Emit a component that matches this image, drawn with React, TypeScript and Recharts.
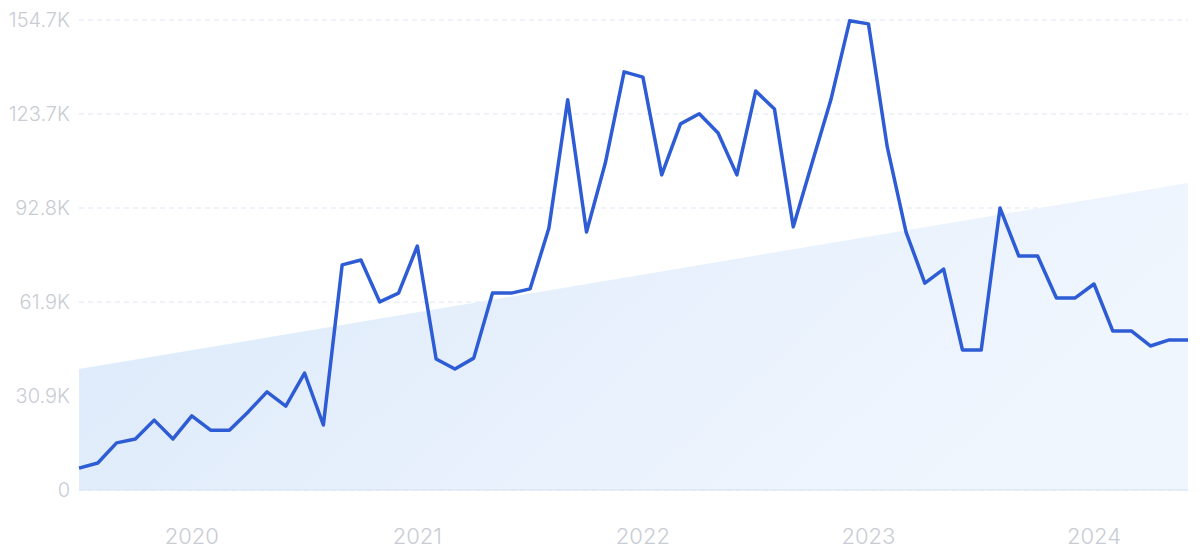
import React from 'react';
import { ComposedChart, Line, Area, XAxis, YAxis, CartesianGrid } from 'recharts';

// monthly values, Jul 2019 .. Jun 2024 (in thousands)
const months = [
  '2019-07', '2019-08', '2019-09', '2019-10', '2019-11', '2019-12',
  '2020-01', '2020-02', '2020-03', '2020-04', '2020-05', '2020-06',
  '2020-07', '2020-08', '2020-09', '2020-10', '2020-11', '2020-12',
  '2021-01', '2021-02', '2021-03', '2021-04', '2021-05', '2021-06',
  '2021-07', '2021-08', '2021-09', '2021-10', '2021-11', '2021-12',
  '2022-01', '2022-02', '2022-03', '2022-04', '2022-05', '2022-06',
  '2022-07', '2022-08', '2022-09', '2022-10', '2022-11', '2022-12',
  '2023-01', '2023-02', '2023-03', '2023-04', '2023-05', '2023-06',
  '2023-07', '2023-08', '2023-09', '2023-10', '2023-11', '2023-12',
  '2024-01', '2024-02', '2024-03', '2024-04', '2024-05', '2024-06',
];

const searches = [
  7.2, 8.9, 15.5, 16.8, 23.0, 16.8, 24.4, 19.7, 19.7, 25.7, 32.3, 27.6,
  38.5, 21.4, 74.1, 75.7, 61.9, 64.8, 80.3, 43.1, 39.8, 43.4, 64.8, 64.8,
  66.2, 86.2, 128.4, 84.9, 107.6, 137.6, 135.9, 103.7, 120.5, 123.8, 117.5, 103.7,
  131.3, 125.4, 86.6, 107.6, 128.4, 154.4, 153.4, 112.9, 84.9, 68.1, 72.7, 46.1,
  46.1, 92.8, 77.0, 77.0, 63.2, 63.2, 67.8, 52.3, 52.3, 47.4, 49.4, 49.4,
];

// trend line end points (first and last month)
const trendStart = 39.8;
const trendEnd = 101.0;

const yTicks = [0, 30.936, 61.872, 92.808, 123.744, 154.68];
const yTickLabels = ['0', '30.9K', '61.9K', '92.8K', '123.7K', '154.7K'];

const yearTicks = [6, 18, 30, 42, 54];

const data = months.map((m, i) => ({
  idx: i,
  month: m,
  value: searches[i],
  trend: i === 0 ? trendStart : i === months.length - 1 ? trendEnd : null,
}));

const labelStyle = { fill: '#c8ccd4', fontSize: 20, fontWeight: 300, fontFamily: 'Inter, sans-serif' };

export default function App() {
  return (
    <div style={{ position: 'absolute', left: 0, top: 0, background: '#fff' }}>
      <ComposedChart
        width={1200}
        height={554}
        data={data}
        margin={{ top: 20, right: 12, left: 0, bottom: 0 }}
      >
        <defs>
          <linearGradient id="trendFill" x1="0" y1="0" x2="1" y2="0.3">
            <stop offset="0%" stopColor="#dce9fa" />
            <stop offset="100%" stopColor="#f0f6fe" />
          </linearGradient>
        </defs>
        <CartesianGrid vertical={false} stroke="#dfe6f2" strokeDasharray="5 4" />
        <XAxis
          dataKey="idx"
          type="number"
          domain={[0, months.length - 1]}
          ticks={yearTicks}
          tickFormatter={(v: number) => months[v].slice(0, 4)}
          tickLine={false}
          tickSize={0}
          tickMargin={38}
          height={64}
          axisLine={{ stroke: '#d3e2f5' }}
          tick={{ ...labelStyle, fontSize: 22 }}
        />
        <YAxis
          width={79}
          domain={[0, 154.68]}
          ticks={yTicks}
          tickFormatter={(v: number) => yTickLabels[yTicks.indexOf(v)] ?? ''}
          tickLine={false}
          axisLine={false}
          tickSize={0}
          tickMargin={9}
          tick={labelStyle}
        />
        <Area
          dataKey="trend"
          type="linear"
          connectNulls
          stroke="none"
          fill="url(#trendFill)"
          fillOpacity={1}
          isAnimationActive={false}
          dot={false}
          activeDot={false}
        />
        <Line
          dataKey="value"
          type="linear"
          stroke="#2d5cd5"
          strokeWidth={3.5}
          strokeLinejoin="round"
          dot={false}
          activeDot={false}
          isAnimationActive={false}
        />
      </ComposedChart>
    </div>
  );
}
